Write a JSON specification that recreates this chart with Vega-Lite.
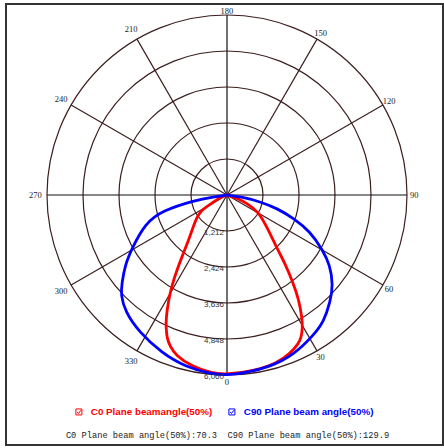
{
  "$schema": "https://vega.github.io/schema/vega-lite/v6.json",
  "width": 437,
  "height": 441,
  "autosize": {"type": "none"},
  "padding": {"left": 6, "top": 4, "right": 1, "bottom": 3},
  "background": "white",
  "config": {"view": {"stroke": "#333333", "strokeWidth": 2}},
  "title": {
    "text": "C0 Plane beam angle(50%):70.3\u00a0 C90 Plane beam angle(50%):129.9",
    "orient": "bottom",
    "anchor": "middle",
    "font": "Liberation Mono",
    "fontSize": 8.7,
    "fontWeight": "normal",
    "color": "#222222",
    "offset": -14,
    "dx": 3
  },
  "datasets": {
    "rings": [{"r": 1212}, {"r": 2424}, {"r": 3636}, {"r": 4848}, {"r": 6060}],
    "spokes": [{"a": 0}, {"a": 30}, {"a": 60}, {"a": 90}, {"a": 120}, {"a": 150}, {"a": 180}, {"a": 210}, {"a": 240}, {"a": 270}, {"a": 300}, {"a": 330}],
    "curves": [
      {"s": "C0 Plane beamangle(50%)", "a": -90, "v": 0},
      {"s": "C0 Plane beamangle(50%)", "a": -68.3, "v": 301},
      {"s": "C0 Plane beamangle(50%)", "a": -61, "v": 577},
      {"s": "C0 Plane beamangle(50%)", "a": -59.5, "v": 1106},
      {"s": "C0 Plane beamangle(50%)", "a": -46.8, "v": 1560},
      {"s": "C0 Plane beamangle(50%)", "a": -40.4, "v": 1989},
      {"s": "C0 Plane beamangle(50%)", "a": -36.1, "v": 2571},
      {"s": "C0 Plane beamangle(50%)", "a": -33.7, "v": 3035},
      {"s": "C0 Plane beamangle(50%)", "a": -31.4, "v": 3551},
      {"s": "C0 Plane beamangle(50%)", "a": -29.1, "v": 4047},
      {"s": "C0 Plane beamangle(50%)", "a": -26.3, "v": 4632},
      {"s": "C0 Plane beamangle(50%)", "a": -24.6, "v": 4926},
      {"s": "C0 Plane beamangle(50%)", "a": -22.7, "v": 5231},
      {"s": "C0 Plane beamangle(50%)", "a": -20.7, "v": 5434},
      {"s": "C0 Plane beamangle(50%)", "a": -17.9, "v": 5661},
      {"s": "C0 Plane beamangle(50%)", "a": -11.5, "v": 5899},
      {"s": "C0 Plane beamangle(50%)", "a": -4.8, "v": 6024},
      {"s": "C0 Plane beamangle(50%)", "a": 0, "v": 6043},
      {"s": "C0 Plane beamangle(50%)", "a": 8.6, "v": 5993},
      {"s": "C0 Plane beamangle(50%)", "a": 16.5, "v": 5912},
      {"s": "C0 Plane beamangle(50%)", "a": 21.8, "v": 5740},
      {"s": "C0 Plane beamangle(50%)", "a": 25.8, "v": 5546},
      {"s": "C0 Plane beamangle(50%)", "a": 27.4, "v": 5421},
      {"s": "C0 Plane beamangle(50%)", "a": 29.6, "v": 5152},
      {"s": "C0 Plane beamangle(50%)", "a": 31.4, "v": 4850},
      {"s": "C0 Plane beamangle(50%)", "a": 34.4, "v": 4286},
      {"s": "C0 Plane beamangle(50%)", "a": 36.9, "v": 3717},
      {"s": "C0 Plane beamangle(50%)", "a": 40.3, "v": 3017},
      {"s": "C0 Plane beamangle(50%)", "a": 43.2, "v": 2460},
      {"s": "C0 Plane beamangle(50%)", "a": 49.4, "v": 1848},
      {"s": "C0 Plane beamangle(50%)", "a": 62.2, "v": 1206},
      {"s": "C0 Plane beamangle(50%)", "a": 67.5, "v": 729},
      {"s": "C0 Plane beamangle(50%)", "a": 71.7, "v": 355},
      {"s": "C0 Plane beamangle(50%)", "a": 90, "v": 0},
      {"s": "C90 Plane beam angle(50%)", "a": -90, "v": 0},
      {"s": "C90 Plane beam angle(50%)", "a": -81.3, "v": 443},
      {"s": "C90 Plane beam angle(50%)", "a": -81, "v": 1080},
      {"s": "C90 Plane beam angle(50%)", "a": -76.4, "v": 2251},
      {"s": "C90 Plane beam angle(50%)", "a": -70.9, "v": 2911},
      {"s": "C90 Plane beam angle(50%)", "a": -60.7, "v": 3668},
      {"s": "C90 Plane beam angle(50%)", "a": -55.5, "v": 4165},
      {"s": "C90 Plane beam angle(50%)", "a": -50, "v": 4619},
      {"s": "C90 Plane beam angle(50%)", "a": -46.7, "v": 4913},
      {"s": "C90 Plane beam angle(50%)", "a": -41.1, "v": 5212},
      {"s": "C90 Plane beam angle(50%)", "a": -32.9, "v": 5479},
      {"s": "C90 Plane beam angle(50%)", "a": -22.3, "v": 5762},
      {"s": "C90 Plane beam angle(50%)", "a": -13.7, "v": 5949},
      {"s": "C90 Plane beam angle(50%)", "a": -4.8, "v": 6057},
      {"s": "C90 Plane beam angle(50%)", "a": 0, "v": 6060},
      {"s": "C90 Plane beam angle(50%)", "a": 5.4, "v": 6029},
      {"s": "C90 Plane beam angle(50%)", "a": 14.2, "v": 5962},
      {"s": "C90 Plane beam angle(50%)", "a": 22.6, "v": 5836},
      {"s": "C90 Plane beam angle(50%)", "a": 31.8, "v": 5544},
      {"s": "C90 Plane beam angle(50%)", "a": 37.4, "v": 5366},
      {"s": "C90 Plane beam angle(50%)", "a": 44.1, "v": 5000},
      {"s": "C90 Plane beam angle(50%)", "a": 49.7, "v": 4682},
      {"s": "C90 Plane beam angle(50%)", "a": 55.8, "v": 4193},
      {"s": "C90 Plane beam angle(50%)", "a": 60.1, "v": 3716},
      {"s": "C90 Plane beam angle(50%)", "a": 66.2, "v": 3065},
      {"s": "C90 Plane beam angle(50%)", "a": 70.7, "v": 2379},
      {"s": "C90 Plane beam angle(50%)", "a": 75.1, "v": 1742},
      {"s": "C90 Plane beam angle(50%)", "a": 78.6, "v": 1144},
      {"s": "C90 Plane beam angle(50%)", "a": 82.7, "v": 452},
      {"s": "C90 Plane beam angle(50%)", "a": 90, "v": 0}
    ]
  },
  "layer": [
    {
      "data": {"name": "rings"},
      "transform": [{"calculate": "0", "as": "z"}],
      "mark": {"type": "point", "shape": "circle", "filled": false, "stroke": "#3d1f1f", "strokeWidth": 1.2, "opacity": 1},
      "encoding": {
        "x": {"field": "z", "type": "quantitative", "scale": {"domain": [-7440, 7272], "nice": false, "zero": false}, "axis": null},
        "y": {"field": "z", "type": "quantitative", "scale": {"domain": [-8417, 6430], "nice": false, "zero": false}, "axis": null},
        "size": {"field": "r", "type": "quantitative", "scale": {"type": "pow", "exponent": 2, "domain": [0, 6060], "range": [0, 129600], "zero": true, "nice": false}, "legend": null}
      }
    },
    {
      "data": {"name": "spokes"},
      "transform": [
        {"filter": "datum.a % 90 != 0"},
        {"calculate": "0", "as": "z"},
        {"calculate": "6060*sin(datum.a*PI/180)", "as": "sx"},
        {"calculate": "-6060*cos(datum.a*PI/180)", "as": "sy"}
      ],
      "mark": {"type": "rule", "strokeWidth": 1.2, "stroke": "#3d1f1f"},
      "encoding": {
        "x": {"field": "z", "type": "quantitative"},
        "y": {"field": "z", "type": "quantitative"},
        "x2": {"field": "sx"},
        "y2": {"field": "sy"}
      }
    },
    {
      "data": {"name": "spokes"},
      "transform": [
        {"filter": "datum.a % 90 == 0"},
        {"calculate": "0", "as": "z"},
        {"calculate": "6060*sin(datum.a*PI/180)", "as": "sx"},
        {"calculate": "-6060*cos(datum.a*PI/180)", "as": "sy"}
      ],
      "mark": {"type": "rule", "strokeWidth": 1.2, "stroke": "#111111"},
      "encoding": {
        "x": {"field": "z", "type": "quantitative"},
        "y": {"field": "z", "type": "quantitative"},
        "x2": {"field": "sx"},
        "y2": {"field": "sy"}
      }
    },
    {
      "data": {"name": "curves"},
      "transform": [
        {"calculate": "datum.v*sin(datum.a*PI/180)", "as": "px"},
        {"calculate": "-datum.v*cos(datum.a*PI/180)", "as": "py"}
      ],
      "mark": {"type": "line", "interpolate": "basis", "strokeWidth": 2.8, "strokeCap": "round", "strokeJoin": "round"},
      "encoding": {
        "x": {"field": "px", "type": "quantitative"},
        "y": {"field": "py", "type": "quantitative"},
        "order": {"field": "a", "type": "quantitative"},
        "stroke": {
          "field": "s",
          "type": "nominal",
          "scale": {"domain": ["C0 Plane beamangle(50%)", "C90 Plane beam angle(50%)"], "range": ["#ff0000", "#0000ff"]},
          "legend": {
            "orient": "none",
            "legendX": 68,
            "legendY": 403,
            "direction": "horizontal",
            "title": null,
            "symbolType": "M-1,-1H1V1H-1Z M-0.6,0L-0.15,0.5L0.7,-0.6",
            "symbolSize": 36,
            "symbolStrokeWidth": 1,
            "labelFont": "Liberation Sans",
            "labelFontWeight": "bold",
            "labelFontSize": 9.8,
            "labelOffset": 7,
            "columnPadding": 13,
            "labelColor": {"expr": "datum.label == 'C0 Plane beamangle(50%)' ? '#ff0000' : '#0000ff'"}
          }
        }
      }
    },
    {
      "data": {"name": "spokes"},
      "transform": [
        {"calculate": "datum.a > 180 ? 6450 : (datum.a == 180 ? 6200 : 6300)", "as": "lr"},
        {"calculate": "datum.lr*sin(datum.a*PI/180)", "as": "lx"},
        {"calculate": "-datum.lr*cos(datum.a*PI/180)", "as": "ly"}
      ],
      "mark": {"type": "text", "font": "Liberation Serif", "fontSize": 8.5, "fill": "#222222", "align": "center", "baseline": "middle"},
      "encoding": {
        "x": {"field": "lx", "type": "quantitative"},
        "y": {"field": "ly", "type": "quantitative"},
        "text": {"field": "a", "type": "quantitative"}
      }
    },
    {
      "data": {"name": "rings"},
      "transform": [{"calculate": "-datum.r", "as": "ry"}, {"calculate": "0", "as": "z"}],
      "mark": {"type": "text", "font": "Liberation Sans", "fontSize": 8, "fill": "#333333", "align": "right", "baseline": "middle", "dx": -3, "dy": 2},
      "encoding": {
        "x": {"field": "z", "type": "quantitative"},
        "y": {"field": "ry", "type": "quantitative"},
        "text": {"field": "r", "type": "quantitative", "format": ","}
      }
    }
  ]
}
